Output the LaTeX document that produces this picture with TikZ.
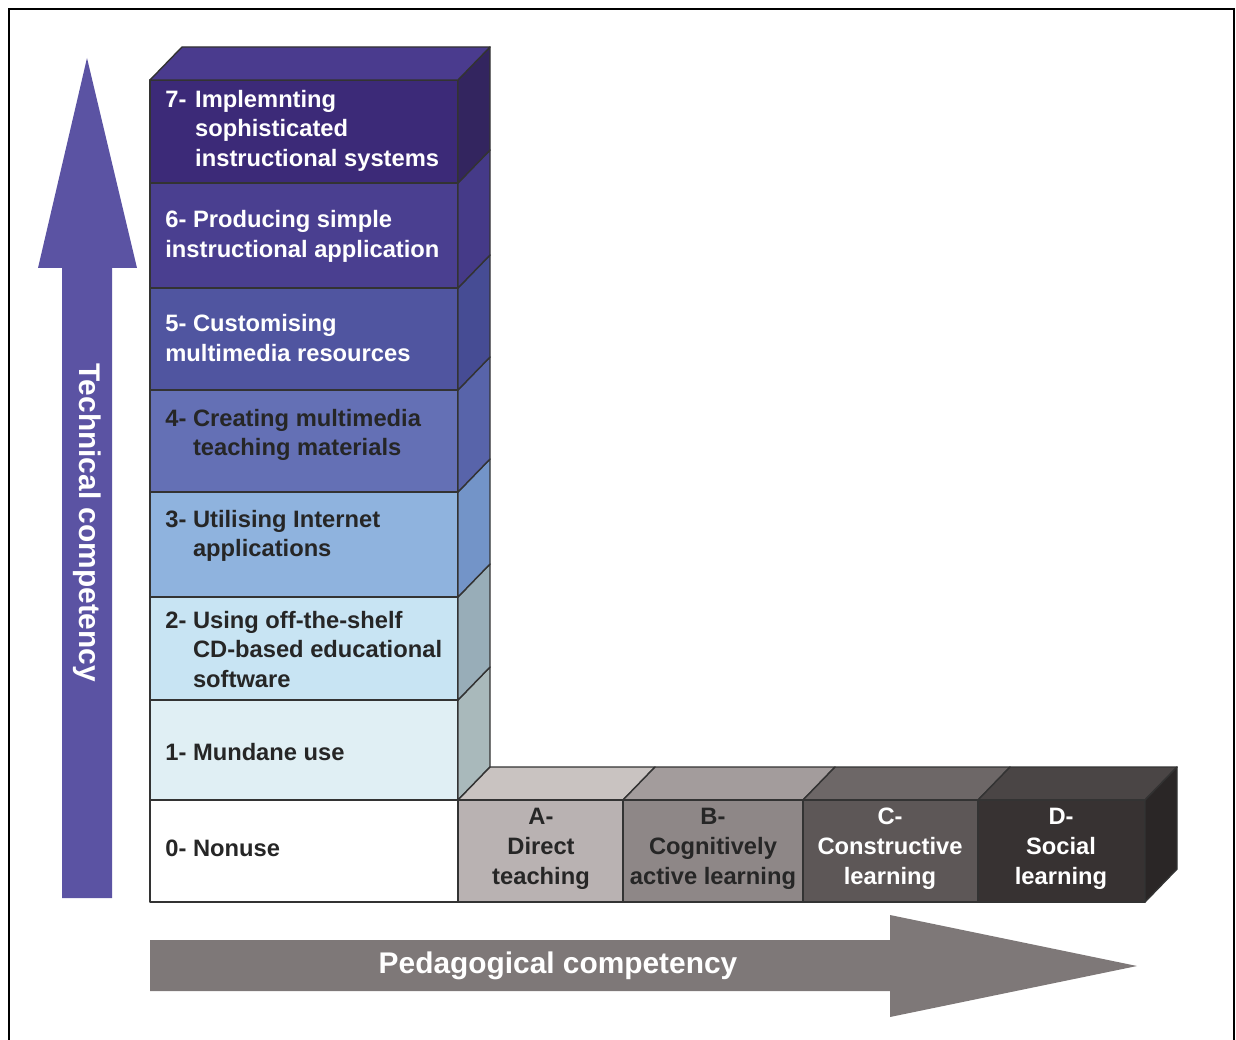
\documentclass[tikz,border=0pt]{standalone}
\usepackage{fontspec}
\setmainfont{Liberation Sans}
\definecolor{frseven}{HTML}{3C2A78}
\definecolor{sdseven}{HTML}{33255F}
\definecolor{tpseven}{HTML}{4A3B8E}
\definecolor{frsix}{HTML}{4A3F90}
\definecolor{sdsix}{HTML}{453A88}
\definecolor{frfive}{HTML}{5055A0}
\definecolor{sdfive}{HTML}{464C94}
\definecolor{frfour}{HTML}{6470B5}
\definecolor{sdfour}{HTML}{5864AA}
\definecolor{frthree}{HTML}{8FB3DE}
\definecolor{sdthree}{HTML}{7394C8}
\definecolor{frtwo}{HTML}{C8E4F3}
\definecolor{sdtwo}{HTML}{98ADB8}
\definecolor{frone}{HTML}{E0EFF4}
\definecolor{sdone}{HTML}{A9B9BB}
\definecolor{frA}{HTML}{B9B2B2}
\definecolor{tpA}{HTML}{C9C3C1}
\definecolor{frB}{HTML}{8E8787}
\definecolor{tpB}{HTML}{A39C9C}
\definecolor{frC}{HTML}{5D5757}
\definecolor{tpC}{HTML}{6D6767}
\definecolor{frD}{HTML}{373232}
\definecolor{tpD}{HTML}{4A4545}
\definecolor{sdD}{HTML}{2A2626}
\definecolor{techarrow}{HTML}{5B53A3}
\definecolor{pedaarrow}{HTML}{7E7878}
\begin{document}
\begin{tikzpicture}
		[x=0.02cm,y=-0.02cm,
		face/.style={draw=black!80,line width=0.8pt,line join=round},
		lbl/.style={anchor=west,align=left,inner sep=0pt,font=\bfseries\fontsize{13.5}{17}\selectfont},
		cat/.style={align=center,inner sep=0pt,font=\bfseries\fontsize{13.5}{17}\selectfont},
		axis/.style={text=white,inner sep=0pt,font=\bfseries\fontsize{17}{20}\selectfont}]
	\useasboundingbox (0,0) rectangle (1236,1040);
	\draw[line width=1.6pt] (9,1045) -- (9,9) -- (1234,9) -- (1234,1045);
	% technical axis
	\fill[techarrow] (62,898) -- (62,268) -- (38,268) -- (87,58) -- (137,268) -- (112,268) -- (112,898) -- cycle;
	\node[axis,rotate=-90] (tech) at (87,523) {Technical competency};
	% stack of levels
	\foreach \top/\bot/\fr/\sd in {700/800/frone/sdone,597/700/frtwo/sdtwo,492/597/frthree/sdthree,
		390/492/frfour/sdfour,288/390/frfive/sdfive,183/288/frsix/sdsix,80/183/frseven/sdseven}{
		\filldraw[face,fill=\fr] (150,\top) rectangle (458,\bot);
		\filldraw[face,fill=\sd] (458,\top) -- (490,\top-33) -- (490,\bot-33) -- (458,\bot) -- cycle;
	}
	\filldraw[face,fill=tpseven] (150,80) -- (182,47) -- (490,47) -- (458,80) -- cycle;
	\filldraw[face,fill=white] (150,800) rectangle (458,902);
	% pedagogical blocks
	\foreach \l/\r/\fr/\tp in {458/623/frA/tpA,623/803/frB/tpB,803/978/frC/tpC,978/1145/frD/tpD}{
		\filldraw[face,fill=\tp] (\l,800) -- (\l+32,767) -- (\r+32,767) -- (\r,800) -- cycle;
		\filldraw[face,fill=\fr] (\l,800) rectangle (\r,902);
	}
	\filldraw[face,fill=sdD] (1145,800) -- (1177,767) -- (1177,869) -- (1145,902) -- cycle;
	% pedagogical axis
	\fill[pedaarrow] (150,940) -- (890,940) -- (890,915) -- (1137,966) -- (890,1017) -- (890,991) -- (150,991) -- cycle;
	\node[axis] (peda) at (558,966) {Pedagogical competency};
	% level labels
	\node[lbl,text=white] (seven) at (165,131) {\begin{tabular}{@{}l@{\hspace{5pt}}l@{}}7-&Implemnting\\&sophisticated\\&instructional systems\end{tabular}};
	\node[lbl,text=white] (six) at (165,236) {6- Producing simple\\instructional application};
	\node[lbl,text=white] (five) at (165,338) {5- Customising\\multimedia resources};
	\node[lbl,text=black!85] (four) at (165,435) {\begin{tabular}{@{}l@{ }l@{}}4-&Creating multimedia\\&teaching materials\end{tabular}};
	\node[lbl,text=black!85] (three) at (165,536) {\begin{tabular}{@{}l@{ }l@{}}3-&Utilising Internet\\&applications\end{tabular}};
	\node[lbl,text=black!85] (two) at (165,652) {\begin{tabular}{@{}l@{ }l@{}}2-&Using off-the-shelf\\&CD-based educational\\&software\end{tabular}};
	\node[lbl,text=black!85] (one) at (165,752) {1- Mundane use};
	\node[lbl,text=black!85] (zero) at (165,848) {0- Nonuse};
	% category labels
	\node[cat,text=black!85] (catA) at (541,849) {A-\\Direct\\teaching};
	\node[cat,text=black!85] (catB) at (713,849) {B-\\Cognitively\\active learning};
	\node[cat,text=white] (catC) at (890,849) {C-\\Constructive\\learning};
	\node[cat,text=white] (catD) at (1061,849) {D-\\Social\\learning};
\end{tikzpicture}
\end{document}
